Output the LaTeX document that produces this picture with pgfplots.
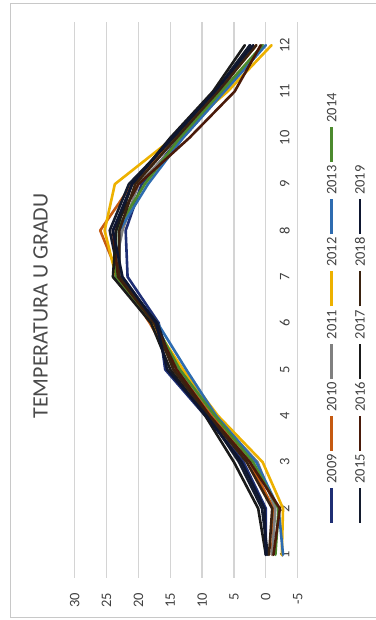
\documentclass[border=0pt]{standalone}
\usepackage{pgfplots}
\pgfplotsset{compat=1.18}
\usepackage{pgfplotstable}
\usepackage{fontspec}
\setmainfont{Carlito}
\definecolor{gridgray}{HTML}{D4D4D4}
\definecolor{framegray}{HTML}{C8C8C8}
\definecolor{txtgray}{HTML}{404040}
\definecolor{titlegray}{HTML}{4A4A4A}
\definecolor{c2009}{HTML}{1F2F74}
\definecolor{c2010}{HTML}{C55A11}
\definecolor{c2011}{HTML}{808080}
\definecolor{c2012}{HTML}{EDB100}
\definecolor{c2013}{HTML}{2E6CB0}
\definecolor{c2014}{HTML}{4C8A2E}
\definecolor{c2015}{HTML}{141B2E}
\definecolor{c2016}{HTML}{4A1A0A}
\definecolor{c2017}{HTML}{1A1A1A}
\definecolor{c2018}{HTML}{3A2210}
\definecolor{c2019}{HTML}{0E1630}
\pgfplotstableread{
m  y2009 y2010 y2011 y2012 y2013 y2014 y2015 y2016 y2017 y2018 y2019
1   0.0  -1.0  -1.0  -2.5  -2.7  -1.5  -0.3  -1.2   0.0  -0.5   0.0
2   0.0  -1.2  -1.5  -2.7  -2.0  -2.0   0.6  -2.2   1.2  -1.0   0.2
3   3.5   2.5   1.3   0.5   1.5   2.0   4.2   2.5   5.0   3.0   3.8
4   9.5   8.5   8.0   7.5   7.8   8.0   9.0   8.8   9.5   9.0   9.3
5  15.8  14.0  13.5  13.0  12.5  13.5  14.5  14.0  15.0  14.5  15.5
6  16.8  18.2  17.5  17.8  17.0  17.5  17.0  17.5  18.0  17.5  17.2
7  21.7  23.0  24.0  23.5  23.0  23.5  23.0  23.2  24.0  23.0  22.5
8  22.0  26.0  22.5  25.3  23.0  23.5  24.5  24.0  23.5  23.0  24.0
9  19.5  21.0  20.0  23.7  18.5  19.0  21.5  20.0  21.0  20.5  21.0
10 13.5  14.0  13.0  14.5  13.0  13.5  14.5  12.0  15.0  14.0  14.8
11  7.0   7.5   6.5   6.0   6.5   7.0   8.0   4.9   8.3   7.5   8.0
12  2.5   1.5   0.5  -0.9   0.0   0.5   2.5   0.8   3.3   1.5   2.0
}\data
\begin{document}
\begin{tikzpicture}
\path[use as bounding box] (0pt,0pt) rectangle (375pt,620pt);
\draw[framegray, line width=1pt] (10pt,2pt) rectangle (380pt,616pt);
\begin{axis}[
  at={(186.2pt,320pt)}, anchor=center,
  scale only axis, width=223pt, height=556pt,
  xmin=-5, xmax=30, ymin=0.5, ymax=12.5, x dir=reverse,
  xtick={-5,0,5,10,15,20,25,30}, xticklabels={-5,0,5,10,15,20,25,30},
  ytick={1,2,3,4,5,6,7,8,9,10,11,12}, yticklabels={1,2,3,4,5,6,7,8,9,10,11,12},
  xmajorgrids, major grid style={draw=gridgray, line width=1.3pt},
  axis line style={draw=none}, major tick length=0pt,
  tick label style={font=\fontsize{14.5}{17}\selectfont, text=txtgray},
  xticklabel style={yshift=-15pt, rotate=90, anchor=east, inner sep=0pt},
  yticklabel pos=right,
  yticklabel style={xshift=-13pt, rotate=90, anchor=center, inner sep=0pt},
  every axis plot/.append style={line width=2.6pt, line join=round, line cap=round, mark=none},
]
\addplot[c2009] table[x=y2009, y=m] {\data};
\addplot[c2010] table[x=y2010, y=m] {\data};
\addplot[c2011] table[x=y2011, y=m] {\data};
\addplot[c2012] table[x=y2012, y=m] {\data};
\addplot[c2013] table[x=y2013, y=m] {\data};
\addplot[c2014] table[x=y2014, y=m] {\data};
\addplot[c2015] table[x=y2015, y=m] {\data};
\addplot[c2016] table[x=y2016, y=m] {\data};
\addplot[c2017] table[x=y2017, y=m] {\data};
\addplot[c2018] table[x=y2018, y=m] {\data};
\addplot[c2019] table[x=y2019, y=m] {\data};
\end{axis}
\node[rotate=90, font=\fontsize{22}{26}\selectfont, text=titlegray] at (40.5pt,314pt) {TEMPERATURA U GRADU};
% legend (drawn rotated, as in the reference)
\begin{scope}[line width=2.8pt]
\foreach \c/\t/\k in {c2009/2009/0, c2010/2010/1, c2011/2011/2, c2012/2012/3, c2013/2013/4, c2014/2014/5}{
  \draw[\c] (331.7pt,{97pt+72.2pt*\k}) -- (331.7pt,{132pt+72.2pt*\k});
  \node[rotate=90, anchor=west, inner sep=0pt, font=\fontsize{14.5}{17}\selectfont, text=txtgray] at (331.7pt,{135pt+72.2pt*\k}) {\t};
}
\foreach \c/\t/\k in {c2015/2015/0, c2016/2016/1, c2017/2017/2, c2018/2018/3, c2019/2019/4}{
  \draw[\c] (360pt,{97pt+72.2pt*\k}) -- (360pt,{132pt+72.2pt*\k});
  \node[rotate=90, anchor=west, inner sep=0pt, font=\fontsize{14.5}{17}\selectfont, text=txtgray] at (360pt,{135pt+72.2pt*\k}) {\t};
}
\end{scope}
\end{tikzpicture}
\end{document}
